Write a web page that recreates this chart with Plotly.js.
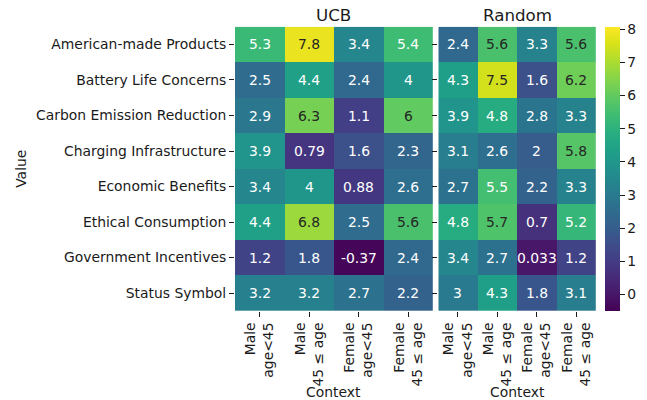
<!DOCTYPE html>
<html>
<head>
<meta charset="utf-8">
<script src="https://cdn.plot.ly/plotly-3.0.1.min.js"></script>
<style>html,body{margin:0;padding:0;background:#fff;}</style>
</head>
<body>
<div id="chart" style="width:647px;height:400px;"></div>
<script>
var rows = ["American-made Products","Battery Life Concerns","Carbon Emission Reduction","Charging Infrastructure","Economic Benefits","Ethical Consumption","Government Incentives","Status Symbol"];
var contexts = ["Male<br>age&lt;45","Male<br>45 ≤ age","Female<br>age&lt;45","Female<br>45 ≤ age"];
var ucb = [
  [5.3, 7.8, 3.4, 5.4],
  [2.5, 4.4, 2.4, 4],
  [2.9, 6.3, 1.1, 6],
  [3.9, 0.79, 1.6, 2.3],
  [3.4, 4, 0.88, 2.6],
  [4.4, 6.8, 2.5, 5.6],
  [1.2, 1.8, -0.37, 2.4],
  [3.2, 3.2, 2.7, 2.2]
];
var random = [
  [2.4, 5.6, 3.3, 5.6],
  [4.3, 7.5, 1.6, 6.2],
  [3.9, 4.8, 2.8, 3.3],
  [3.1, 2.6, 2, 5.8],
  [2.7, 5.5, 2.2, 3.3],
  [4.8, 5.7, 0.7, 5.2],
  [3.4, 2.7, 0.033, 1.2],
  [3, 4.3, 1.8, 3.1]
];
var panelTitles = ["UCB","Random"];
var xTitle = "Context";
var yTitle = "Value";
var cbTicks = [0,1,2,3,4,5,6,7,8];

var W = 647, H = 400;
var ZMIN = -0.49, ZMAX = 8.07;
var FONT = "DejaVu Sans, sans-serif";
var TXT = "#1a1a1a";
function px(x){return x / W;}
function py(y){return 1 - y / H;}
function fmt(v){return String(Number(v.toPrecision(2)));}

var plotTop = 26.7, plotBottom = 310.9;
var dom1 = [px(235), px(432.8)];
var dom2 = [px(438.3), px(595.8)];
var ydom = [py(plotBottom), py(plotTop)];

var traces = [
  {type:"heatmap", z: ucb, x: contexts, y: rows, xaxis:"x", yaxis:"y",
   colorscale:"Viridis", zmin:ZMIN, zmax:ZMAX, showscale:true, hoverinfo:"skip",
   colorbar:{x:px(605), xanchor:"left", xref:"paper", y:py((plotTop+plotBottom)/2), yanchor:"middle", yref:"paper",
     lenmode:"pixels", len:plotBottom-plotTop, thickness:15, thicknessmode:"pixels",
     outlinewidth:0, ticks:"outside", ticklen:5, tickwidth:1, tickcolor:TXT,
     tickmode:"array", tickvals:cbTicks, ticktext:cbTicks.map(String),
     tickfont:{family:FONT, size:13.9, color:TXT}, xpad:0, ypad:0}},
  {type:"heatmap", z: random, x: contexts, y: rows, xaxis:"x2", yaxis:"y2",
   colorscale:"Viridis", zmin:ZMIN, zmax:ZMAX, showscale:false, hoverinfo:"skip"}
];

var annotations = [];
function addCellText(data, xa, ya){
  for (var i = 0; i < rows.length; i++){
    for (var j = 0; j < contexts.length; j++){
      var v = data[i][j];
      annotations.push({x: contexts[j], y: rows[i], xref: xa, yref: ya, text: fmt(v),
        showarrow:false, font:{family:FONT, size:13.9, color: v > 5.55 ? "#262626" : "#ffffff"}});
    }
  }
}
addCellText(ucb, "x", "y");
addCellText(random, "x2", "y2");
annotations.push({x:(dom1[0]+dom1[1])/2, y:py(15), xref:"paper", yref:"paper", text:panelTitles[0], showarrow:false,
  font:{family:FONT, size:16.7, color:TXT}, xanchor:"center", yanchor:"middle"});
annotations.push({x:(dom2[0]+dom2[1])/2, y:py(15), xref:"paper", yref:"paper", text:panelTitles[1], showarrow:false,
  font:{family:FONT, size:16.7, color:TXT}, xanchor:"center", yanchor:"middle"});
annotations.push({x:(dom1[0]+dom1[1])/2, y:py(392), xref:"paper", yref:"paper", text:xTitle, showarrow:false,
  font:{family:FONT, size:13.9, color:TXT}, xanchor:"center", yanchor:"middle"});
annotations.push({x:(dom2[0]+dom2[1])/2, y:py(392), xref:"paper", yref:"paper", text:xTitle, showarrow:false,
  font:{family:FONT, size:13.9, color:TXT}, xanchor:"center", yanchor:"middle"});
annotations.push({x:px(21), y:py((plotTop+plotBottom)/2), xref:"paper", yref:"paper", text:yTitle, showarrow:false, textangle:-90,
  font:{family:FONT, size:13.9, color:TXT}, xanchor:"center", yanchor:"middle"});

var axCommon = {showgrid:false, zeroline:false, showline:false, ticks:"outside", ticklen:5, tickwidth:1,
  tickcolor:TXT, tickfont:{family:FONT, size:13.9, color:TXT}, automargin:false, fixedrange:true};

var layout = {
  width:W, height:H, margin:{l:0, r:0, t:0, b:0, pad:0}, autosize:false,
  paper_bgcolor:"#fff", plot_bgcolor:"#fff", showlegend:false,
  font:{family:FONT, size:13.9, color:TXT},
  xaxis: Object.assign({}, axCommon, {domain:dom1, anchor:"y", tickangle:-90, type:"category"}),
  xaxis2: Object.assign({}, axCommon, {domain:dom2, anchor:"y2", tickangle:-90, type:"category"}),
  yaxis: Object.assign({}, axCommon, {domain:ydom, anchor:"x", autorange:"reversed", type:"category"}),
  yaxis2: Object.assign({}, axCommon, {domain:ydom, anchor:"x2", autorange:"reversed", type:"category", showticklabels:false}),
  annotations: annotations
};

Plotly.newPlot("chart", traces, layout, {displayModeBar:false, staticPlot:true});
</script>
</body>
</html>
